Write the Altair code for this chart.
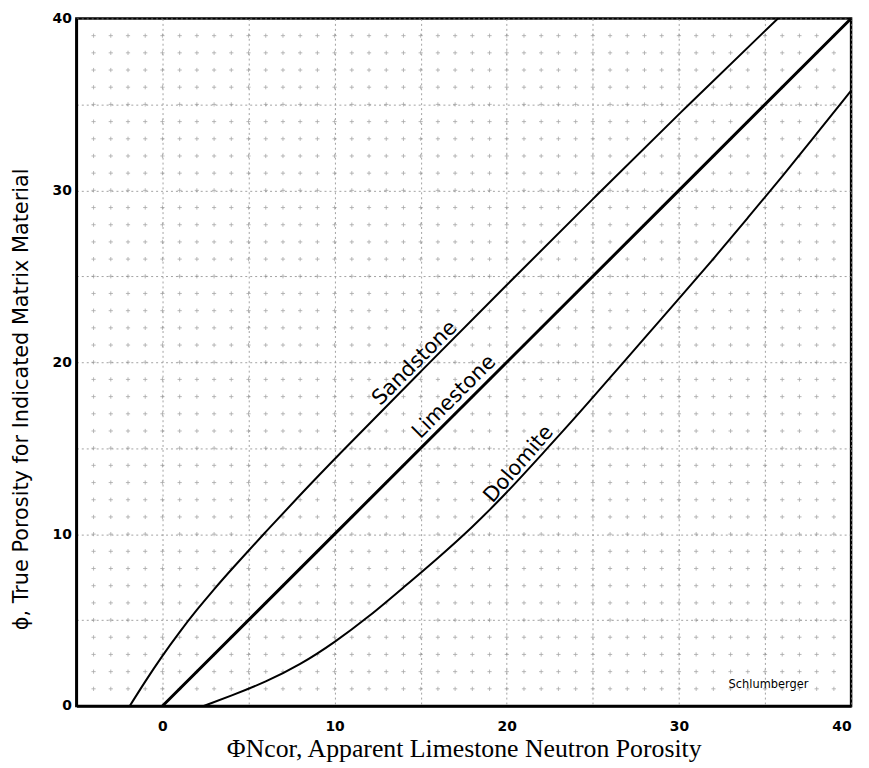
import altair as alt
import pandas as pd
import numpy as np

# ---- curve data ----
sand_x = [-1.9, -1.0, 0.0, 1.0, 2.0, 3.0, 4.0, 6.0, 8.0, 10.0, 15.0, 20.0, 25.0, 30.0, 35.75]
sand_y = [0.0, 1.44, 2.94, 4.32, 5.6, 6.8, 7.94, 10.14, 12.28, 14.38, 19.46, 24.5, 29.5, 34.45, 40.0]

lime_x = [0.0, 10.0, 20.0, 30.0, 40.0]
lime_y = [0.0, 10.0, 20.0, 30.0, 40.0]

dolo_x = [2.4, 4.0, 6.0, 8.0, 10.0, 12.0, 14.0, 16.0, 18.0, 20.0, 22.0, 24.0, 26.0, 28.0, 30.0, 32.0, 34.0, 36.0, 38.0, 40.0]
dolo_y = [0.0, 0.6, 1.4, 2.4, 3.7, 5.2, 6.9, 8.6, 10.4, 12.4, 14.6, 16.8, 19.1, 21.4, 23.7, 26.0, 28.4, 30.8, 33.3, 35.8]

label_names = ["Sandstone", "Limestone", "Dolomite"]
label_x = [14.66, 16.95, 20.7]
label_y = [19.94, 17.98, 14.06]
label_angle = [315, 315, 311]

note_text = ["Schlumberger"]
note_x = [35.2]
note_y = [1.2]

x_ticks = list(range(-5, 41, 5))
y_ticks = list(range(0, 41, 5))

def curve_df(xs, ys):
    return pd.DataFrame({"x": xs, "y": ys, "order": list(range(len(xs)))})

xscale = alt.Scale(domain=[-5, 40], nice=False, zero=False)
yscale = alt.Scale(domain=[0, 40], nice=False, zero=False)

label_expr = "datum.value % 10 == 0 ? datum.label : ''"

xaxis = alt.Axis(
    values=x_ticks, labelExpr=label_expr,
    title="ΦNcor, Apparent Limestone Neutron Porosity",
    titleFont="Liberation Serif", titleFontSize=26, titleFontWeight="normal",
    titleColor="black", titleY=51, titleBaseline="alphabetic",
    labelFont="DejaVu Sans", labelFontSize=14, labelFontWeight="bold",
    labelColor="black", labelPadding=14, ticks=False,
    domainColor="black", domainWidth=2.5,
    grid=True, gridColor="#8a8a8a", gridDash=[2, 3], gridWidth=0.8,
)
yaxis = alt.Axis(
    values=y_ticks, labelExpr=label_expr,
    title="ϕ, True Porosity for Indicated Matrix Material",
    titleFont="DejaVu Sans", titleFontSize=21, titleFontWeight="normal",
    titleColor="black", titleAngle=270, titleX=-55, titleY=384,
    titleAlign="center", titleBaseline="middle",
    labelFont="DejaVu Sans", labelFontSize=14, labelFontWeight="bold",
    labelColor="black", labelPadding=5, ticks=False,
    domainColor="black", domainWidth=2.5,
    grid=True, gridColor="#8a8a8a", gridDash=[2, 3], gridWidth=0.8,
)

# small crosses at every whole-unit intersection (graph paper)
gx, gy = np.meshgrid(np.arange(-4, 40), np.arange(1, 40))
cross_df = pd.DataFrame({"x": gx.ravel(), "y": gy.ravel()})
cross_df = cross_df[~((cross_df.x % 5 == 0) & (cross_df.y % 5 == 0))]

crosses = alt.Chart(cross_df).mark_point(
    shape="M -1 0 L 1 0 M 0 -1 L 0 1", size=18, filled=False,
    stroke="#8a8a8a", strokeWidth=0.8, opacity=0.75,
).encode(x=alt.X("x:Q", scale=xscale, axis=xaxis), y=alt.Y("y:Q", scale=yscale, axis=yaxis))

def line_layer(df, width, interp):
    return alt.Chart(df).mark_line(color="black", strokeWidth=width, interpolate=interp).encode(
        x=alt.X("x:Q", scale=xscale), y=alt.Y("y:Q", scale=yscale), order="order:Q"
    )

sand = line_layer(curve_df(sand_x, sand_y), 2.0, "basis")
lime = line_layer(curve_df(lime_x, lime_y), 3.0, "linear")
dolo = line_layer(curve_df(dolo_x, dolo_y), 2.0, "basis")

labels_df = pd.DataFrame({"name": label_names, "x": label_x, "y": label_y, "angle": label_angle})
labels = alt.Chart(labels_df).mark_text(
    font="DejaVu Sans", fontSize=21, color="black", align="center", baseline="middle"
).encode(
    x=alt.X("x:Q", scale=xscale), y=alt.Y("y:Q", scale=yscale),
    text="name:N", angle=alt.Angle("angle:Q", scale=None),
)

note_df = pd.DataFrame({"t": note_text, "x": note_x, "y": note_y})
note = alt.Chart(note_df).mark_text(
    font="DejaVu Sans", fontSize=11.5, color="black", align="center", baseline="middle"
).encode(x=alt.X("x:Q", scale=xscale), y=alt.Y("y:Q", scale=yscale), text="t:N")

chart = alt.layer(crosses, sand, lime, dolo, labels, note).properties(
    width=782, height=694,
    autosize=alt.AutoSizeParams(type="none"),
    padding={"left": 69, "top": 7, "right": 10, "bottom": 58},
    background="white",
).configure_view(stroke="black", strokeWidth=2.5)

chart.save("out.html", embed_options={"renderer": "svg", "actions": False})
